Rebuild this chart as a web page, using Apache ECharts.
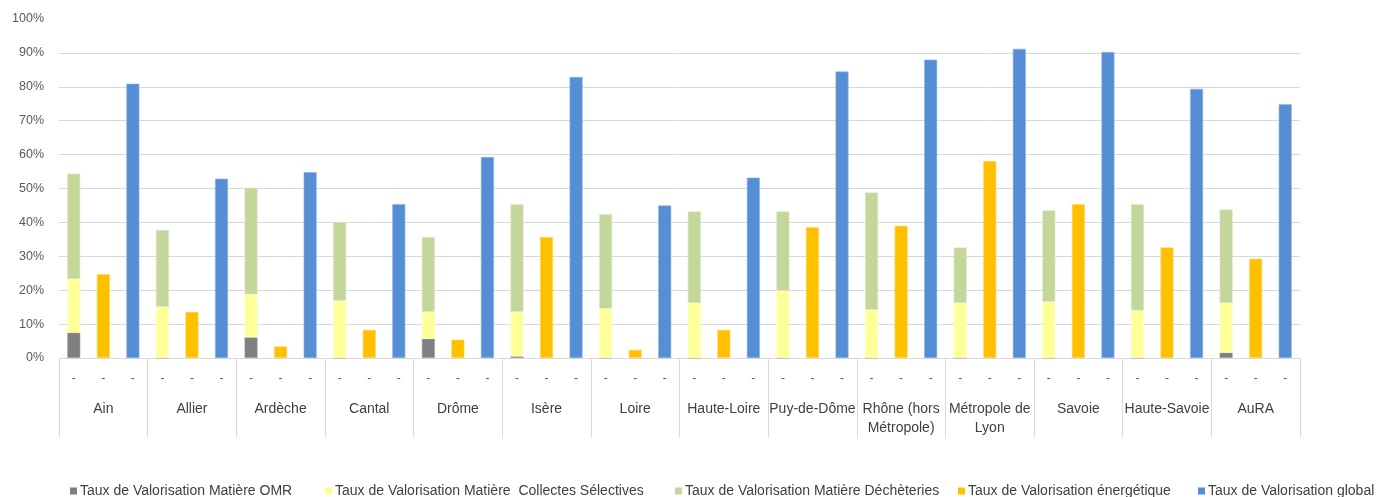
<!DOCTYPE html>
<html><head><meta charset="utf-8">
<script src="https://cdn.jsdelivr.net/npm/echarts@6/dist/echarts.min.js"></script>
<style>html,body{margin:0;padding:0;background:#fff}#c{width:1378px;height:497px}</style>
</head><body><div id="c"></div>
<script>
const groups = ['Ain','Allier','Ardèche','Cantal','Drôme','Isère','Loire','Haute-Loire','Puy-de-Dôme','Rhône (hors\nMétropole)','Métropole de\nLyon','Savoie','Haute-Savoie','AuRA'];
const seriesNames = ['Taux de Valorisation Matière OMR','Taux de Valorisation Matière  Collectes Sélectives','Taux de Valorisation Matière Déchèteries','Taux de Valorisation énergétique','Taux de Valorisation global'];
const omr   = [7.5, 0, 6.1, 0, 5.7, 0.5, 0, 0, 0, 0, 0, 0, 0, 1.6];
const cs    = [15.8, 15.1, 12.7, 16.9, 7.9, 13.1, 14.6, 16.2, 19.9, 14.2, 16.2, 16.6, 14.0, 14.6];
const dech  = [31.1, 22.7, 31.4, 23.2, 22.1, 31.8, 27.8, 27.0, 23.3, 34.6, 16.4, 26.9, 31.4, 27.6];
const energ = [24.7, 13.6, 3.4, 8.3, 5.4, 35.7, 2.4, 8.3, 38.6, 39.0, 58.1, 45.4, 32.6, 29.3];
const glob  = [80.9, 52.9, 54.8, 45.4, 59.3, 82.9, 45.0, 53.2, 84.5, 88.0, 91.2, 90.3, 79.4, 74.9];
const subLabel = '-';

const colors = ['#7f7f7f','#ffff99','#c4d79b','#ffc000','#558ed5'];
const borders = ['#a6a6a6','#ffffcc','#dbe7c3','#ffd966','#8eb4e3'];
const subCats = [];
groups.forEach(()=>{ for(let k=0;k<3;k++) subCats.push(subLabel); });
function slot(arr, k){ const out=[]; arr.forEach(v=>{ for(let j=0;j<3;j++) out.push(j===k ? v : '-'); }); return out; }

const font = "'Liberation Sans', Arial, sans-serif";
const chart = echarts.init(document.getElementById('c'));
const mk = (name, data, idx, stack) => ({
  name, type:'bar', data, stack, barWidth:13, barGap:'-100%',
  itemStyle:{color:colors[idx], borderColor:borders[idx], borderWidth:0.6},
  emphasis:{disabled:true}, animation:false
});
const legendLefts = [70, 325, 675, 958, 1198];
chart.setOption({
  animation:false,
  textStyle:{fontFamily:font},
  grid:{left:59, right:78, top:19, bottom:139, containLabel:false},
  legend: seriesNames.map((n,i)=>({
    data:[n], left:legendLefts[i], top:484, padding:0, itemWidth:7, itemHeight:7, itemGap:0,
    icon:'rect', itemStyle:{borderWidth:0, color:colors[i]},
    textStyle:{fontSize:14, color:'#404040', fontFamily:font, padding:[0,0,0,-2]}, selectedMode:false
  })),
  xAxis:[
    {type:'category', data:subCats, position:'bottom',
     axisLine:{show:true, lineStyle:{color:'#d9d9d9', width:1}},
     axisTick:{show:false},
     axisLabel:{interval:0, margin:15, fontSize:12, color:'#595959'}},
    {type:'category', data:groups, position:'bottom',
     axisLine:{show:false},
     axisTick:{show:true, interval:0, length:79, lineStyle:{color:'#d9d9d9'}},
     axisLabel:{interval:0, margin:42, fontSize:14, lineHeight:19, color:'#404040'}}
  ],
  yAxis:{type:'value', min:0, max:100, interval:10,
    axisLine:{show:false}, axisTick:{show:false},
    axisLabel:{formatter:v=>v+'%', fontSize:12.5, color:'#595959', margin:15},
    splitLine:{showMaxLine:false, lineStyle:{color:'#d9d9d9', width:1}}},
  series:[
    mk(seriesNames[0], slot(omr,0), 0, 'mat'),
    mk(seriesNames[1], slot(cs,0), 1, 'mat'),
    mk(seriesNames[2], slot(dech,0), 2, 'mat'),
    mk(seriesNames[3], slot(energ,1), 3, 'en'),
    mk(seriesNames[4], slot(glob,2), 4, 'gl')
  ]
});
</script></body></html>
